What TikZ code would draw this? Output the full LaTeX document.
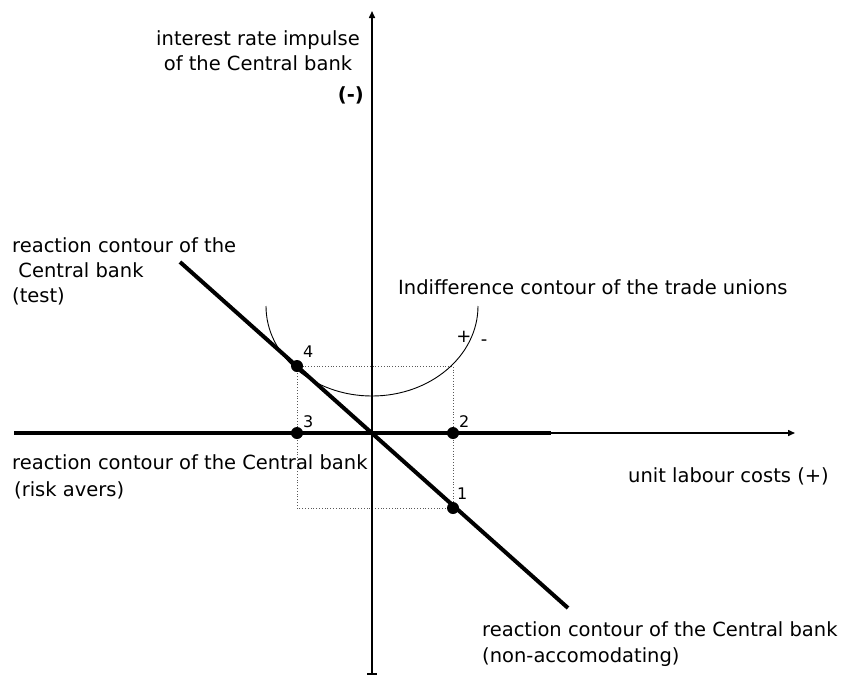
\documentclass[tikz,border=0pt]{standalone}
\usepackage{fontspec}
\setmainfont{DejaVu Sans}
\usetikzlibrary{arrows.meta}
\begin{document}
\begin{tikzpicture}[x=1pt,y=-1pt,
  lbl/.style={inner sep=0pt,font=\fontsize{19.5}{24}\selectfont},
  num/.style={inner sep=0pt,font=\fontsize{16}{18}\selectfont},
  axis/.style={line width=1.5pt},
  thick line/.style={line width=4pt},
  dot/.style={circle,fill=black,inner sep=0pt,minimum size=12pt},
  guide/.style={dotted,line width=0.8pt,gray!70!black}]
\useasboundingbox (0,0) rectangle (845,675);
% coordinates
\coordinate (ytop) at (372,11);
\coordinate (ybot) at (372,674);
\coordinate (O) at (372,433);
\coordinate (xl) at (14,433);
\coordinate (xr) at (795,433);
\coordinate (ra) at (551,433);
\coordinate (da) at (180,262);
\coordinate (db) at (568,608);
% dotted guides
\draw[guide] (297,366) -- (453,366) -- (453,508) -- (297,508) -- cycle;
% axes
\draw[axis,-{Triangle[length=7pt,width=6pt]}] (ybot) -- (ytop);
\draw[axis] ([xshift=-5pt]ybot) -- ([xshift=5pt]ybot);
\draw[axis,-{Triangle[length=7pt,width=6pt]}] (xl) -- (xr);
% reaction contours
\draw[thick line] (xl) -- (ra);
\draw[thick line] (da) -- (db);
% indifference curve
\draw[line width=0.9pt] (266,306) arc[start angle=180,end angle=0,x radius=106,y radius=90];
% points
\node[dot] (p4) at (297,366) {};
\node[dot] (p3) at (297,433) {};
\node[dot] (p2) at (453,433) {};
\node[dot] (p1) at (453,508) {};
\node[num,anchor=base west] (n4) at (303,357) {4};
\node[num,anchor=base west] (n3) at (303,427) {3};
\node[num,anchor=base west] (n2) at (459,427) {2};
\node[num,anchor=base west] (n1) at (457,499) {1};
\node[num,anchor=base,font=\fontsize{18}{20}\selectfont] (plus) at (464,342) {+};
\node[num,anchor=base,font=\fontsize{18}{20}\selectfont] (minus) at (484,345) {-};
% labels
\node[lbl,anchor=base] (t1) at (258,45) {interest rate impulse};
\node[lbl,anchor=base] (t2) at (258,70) {of the Central bank};
\node[lbl,anchor=base east,font=\fontsize{19.5}{24}\selectfont\bfseries] (t3) at (364,101) {(-)};
\node[lbl,anchor=base west] (r1) at (12,252) {reaction contour of the};
\node[lbl,anchor=base west] (r2) at (12,277) {\ Central bank};
\node[lbl,anchor=base west] (r3) at (12,302) {(test)};
\node[lbl,anchor=base west] (ind) at (398,294) {Indifference contour of the trade unions};
\node[lbl,anchor=base west] (k1) at (12,469) {reaction contour of the Central bank};
\node[lbl,anchor=base west] (k2) at (14,496) {(risk avers)};
\node[lbl,anchor=base west] (u) at (628,482) {unit labour costs (+)};
\node[lbl,anchor=base west] (m1) at (482,636) {reaction contour of the Central bank};
\node[lbl,anchor=base west] (m2) at (482,662) {(non-accomodating)};
\end{tikzpicture}
\end{document}
